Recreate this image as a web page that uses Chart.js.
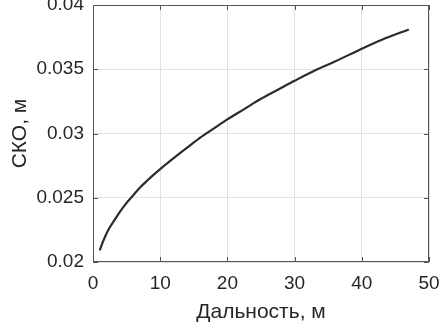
<!DOCTYPE html>
<html>
<head>
<meta charset="utf-8">
<script src="https://cdn.jsdelivr.net/npm/chart.js@4/dist/chart.umd.min.js"></script>
<style>
html,body{margin:0;padding:0;background:#fff;}
#wrap{width:448px;height:333px;position:relative;}
</style>
</head>
<body>
<div id="wrap"><canvas id="c" width="448" height="333"></canvas></div>
<script>
const rangeM = [1, 1.5, 2, 2.5, 3, 4, 5, 6, 7, 8, 9, 10, 12, 14, 16, 18, 20, 22.5, 25, 27.5, 30, 33, 36, 40, 43, 47];
const skoM = [0.0209, 0.0216, 0.0222, 0.0227, 0.0231, 0.0239, 0.0246, 0.0252, 0.0258, 0.0263, 0.02678, 0.02723, 0.02808, 0.0289, 0.0297, 0.0304, 0.0311, 0.0319, 0.0327, 0.0334, 0.0341, 0.0349, 0.0356, 0.0366, 0.0373, 0.0381];
const xTicks = [0, 10, 20, 30, 40, 50];
const yTicks = [0.02, 0.025, 0.03, 0.035, 0.04];
const xTitle = 'Дальность, м';
const yTitle = 'СКО, м';

const FONT = 'Liberation Sans, Arial, sans-serif';
const TXT = '#262626';

const framePlugin = {
  id: 'frame',
  afterDatasetsDraw(chart) {
    const {ctx, chartArea: a, scales: {x, y}} = chart;
    ctx.save();
    ctx.strokeStyle = '#555';
    ctx.lineWidth = 1;
    ctx.beginPath();
    ctx.rect(a.left + 0.5, a.top + 0.5, a.right - a.left - 1, a.bottom - a.top - 1);
    const tl = 5;
    xTicks.forEach(v => {
      const px = Math.round(x.getPixelForValue(v)) + 0.5;
      ctx.moveTo(px, a.bottom); ctx.lineTo(px, a.bottom - tl);
      ctx.moveTo(px, a.top); ctx.lineTo(px, a.top + tl);
    });
    yTicks.forEach(v => {
      const py = Math.round(y.getPixelForValue(v)) + 0.5;
      ctx.moveTo(a.left, py); ctx.lineTo(a.left + tl, py);
      ctx.moveTo(a.right, py); ctx.lineTo(a.right - tl, py);
    });
    ctx.stroke();
    ctx.restore();
  }
};

new Chart(document.getElementById('c'), {
  type: 'scatter',
  data: {
    datasets: [{
      data: rangeM.map((r, i) => ({x: r, y: skoM[i]})),
      showLine: true,
      borderColor: '#2b2b2b',
      borderWidth: 2.2,
      pointRadius: 0,
      cubicInterpolationMode: 'monotone',
      fill: false
    }]
  },
  options: {
    responsive: false,
    animation: false,
    devicePixelRatio: 1,
    layout: {padding: {top: 5, right: 19, left: 0, bottom: 0}},
    plugins: {legend: {display: false}, tooltip: {enabled: false}, title: {display: false}},
    scales: {
      x: {
        type: 'linear', min: 0, max: 50,
        afterBuildTicks: s => { s.ticks = xTicks.map(v => ({value: v})); },
        afterFit: s => { s.height = 71; s.paddingLeft = 0; s.paddingRight = 0; },
        grid: {color: '#e2e2e2', drawTicks: false, lineWidth: 1},
        border: {display: false},
        ticks: {color: TXT, font: {family: FONT, size: 19}, padding: 10, maxRotation: 0,
          callback: v => String(v)},
        title: {display: true, text: xTitle, color: TXT, font: {family: FONT, size: 21}, padding: {top: 0, bottom: 8}}
      },
      y: {
        type: 'linear', min: 0.02, max: 0.04,
        afterBuildTicks: s => { s.ticks = yTicks.map(v => ({value: v})); },
        afterFit: s => { s.width = 93; s.paddingTop = 0; s.paddingBottom = 0; },
        grid: {color: '#e2e2e2', drawTicks: false, lineWidth: 1},
        border: {display: false},
        ticks: {color: TXT, font: {family: FONT, size: 19}, padding: 9,
          callback: v => String(+Number(v).toFixed(3))},
        title: {display: true, text: yTitle, color: TXT, font: {family: FONT, size: 21}, padding: {top: 8, bottom: 0}}
      }
    }
  },
  plugins: [framePlugin]
});
</script>
</body>
</html>
